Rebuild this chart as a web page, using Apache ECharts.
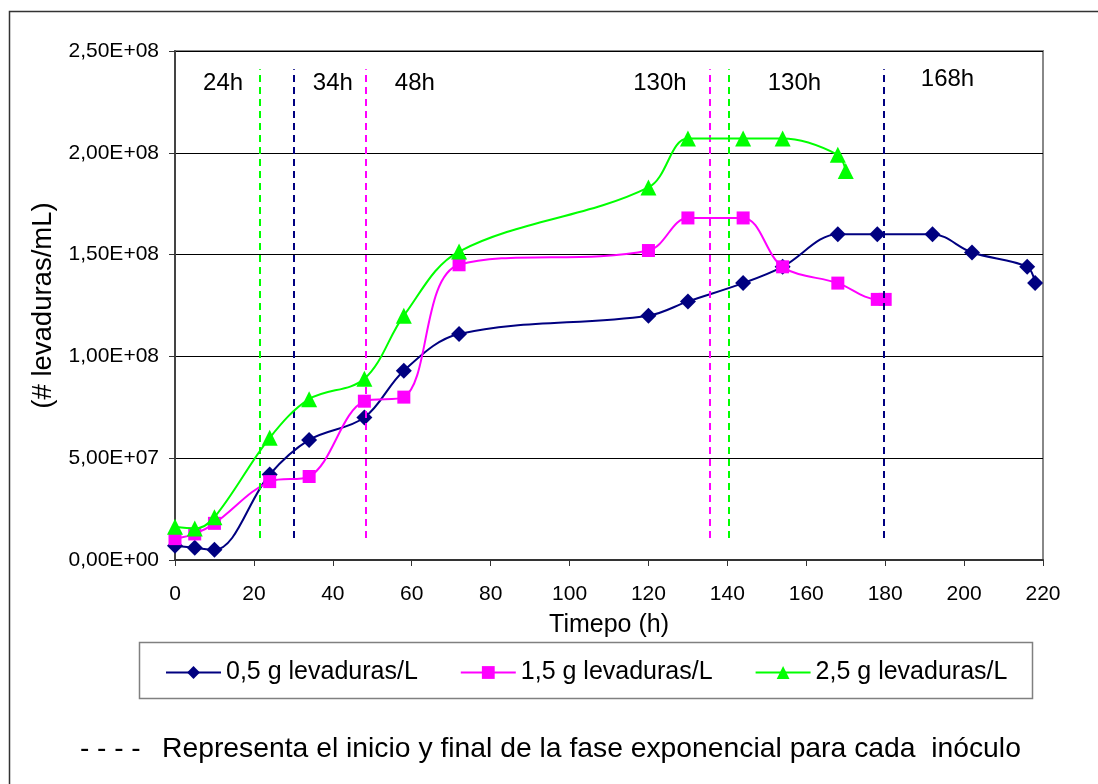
<!DOCTYPE html>
<html>
<head>
<meta charset="utf-8">
<title>Crecimiento de levaduras</title>
<script src="https://cdn.jsdelivr.net/npm/echarts@6/dist/echarts.min.js"></script>
<style>
  html, body { margin: 0; padding: 0; background: #fff; }
  #chart { width: 1098px; height: 784px; }
</style>
</head>
<body>
<div id="chart"></div>
<script>
// Recuento de levaduras (células/mL) frente al tiempo (h) para tres inóculos
const seriesNames = ['0,5 g levaduras/L', '1,5 g levaduras/L', '2,5 g levaduras/L'];

const hours05 = [0, 5, 10, 24, 34, 48, 58, 72, 120, 130, 144, 154, 168, 178, 192, 202, 216, 218];
const cells05 = [7.0e6, 6.0e6, 5.0e6, 4.2e7, 5.9e7, 7.0e7, 9.3e7, 1.11e8, 1.20e8, 1.27e8, 1.36e8, 1.44e8,
                 1.60e8, 1.60e8, 1.60e8, 1.51e8, 1.44e8, 1.36e8];

const hours15 = [0, 5, 10, 24, 34, 48, 58, 72, 120, 130, 144, 154, 168, 178, 180];
const cells15 = [1.05e7, 1.28e7, 1.8e7, 3.85e7, 4.1e7, 7.8e7, 8.0e7, 1.45e8, 1.52e8, 1.68e8, 1.68e8, 1.44e8,
                 1.36e8, 1.28e8, 1.28e8];

const hours25 = [0, 5, 10, 24, 34, 48, 58, 72, 120, 130, 144, 154, 168, 170];
const cells25 = [1.63e7, 1.55e7, 2.1e7, 6.0e7, 7.9e7, 8.9e7, 1.2e8, 1.515e8, 1.83e8, 2.07e8, 2.07e8, 2.07e8,
                 1.99e8, 1.91e8];

// Inicio y final de la fase exponencial de cada inóculo (líneas discontinuas)
const phaseHours = [21.5, 30, 48.4, 135.6, 140.3, 179.6];
const phaseInoculum = [2, 0, 1, 1, 2, 0];
const phaseLow = 1.08e7;
const phaseHigh = 2.41e8;

// Rótulos de duración de la fase
const noteTexts = ['24h', '34h', '48h', '130h', '130h', '168h'];
const noteHours = [12.2, 40.0, 60.8, 122.9, 157.0, 195.8];
const noteLevels = [2.34e8, 2.34e8, 2.34e8, 2.34e8, 2.34e8, 2.36e8];

const xTicks = { min: 0, max: 220, step: 20 };
const yTicks = { min: 0, max: 2.5e8, step: 5e7 };

const colors = ['#000080', '#FF00FF', '#00FF00'];
const symbols = ['diamond', 'rect', 'triangle'];
const symbolSizes = [16, 13, 16];
const FONT = '"Liberation Sans", Arial, sans-serif';

function sci(v) {
  if (v === 0) return '0,00E+00';
  const e = Math.floor(Math.log10(v) + 1e-9);
  const m = v / Math.pow(10, e);
  return m.toFixed(2).replace('.', ',') + 'E+' + String(e).padStart(2, '0');
}

function pairs(xs, ys) { return xs.map((x, i) => [x, ys[i]]); }

const seriesData = [pairs(hours05, cells05), pairs(hours15, cells15), pairs(hours25, cells25)];

const lineSeries = seriesData.map((d, i) => ({
  name: seriesNames[i],
  type: 'line',
  data: d,
  smooth: 0.35,
  symbol: symbols[i],
  symbolSize: symbolSizes[i],
  showAllSymbol: true,
  itemStyle: { color: colors[i], opacity: 1 },
  lineStyle: { color: colors[i], width: 2 },
  z: 3 + i
}));

const noteSeries = {
  name: 'notas',
  type: 'scatter',
  data: noteHours.map((h, i) => ({ value: [h, noteLevels[i]], name: noteTexts[i] })),
  symbolSize: 0,
  silent: true,
  itemStyle: { opacity: 1 },
  label: {
    show: true,
    position: 'inside',
    formatter: p => p.name,
    color: '#000',
    opacity: 1,
    fontSize: 24,
    fontFamily: FONT
  },
  markLine: {
    silent: true,
    symbol: ['none', 'none'],
    label: { show: false },
    data: phaseHours.map((h, i) => [
      { coord: [h, phaseLow], lineStyle: { color: colors[phaseInoculum[i]], type: [7, 5], width: 2, opacity: 1 } },
      { coord: [h, phaseHigh] }
    ])
  },
  z: 2
};

const chart = echarts.init(document.getElementById('chart'), null, { renderer: 'canvas' });

chart.setOption({
  animation: false,
  backgroundColor: '#fff',
  textStyle: { fontFamily: FONT, color: '#000' },
  grid: {
    left: 175, right: 55, top: 51, bottom: 224,
    show: true, borderColor: '#888', borderWidth: 2, backgroundColor: 'transparent'
  },
  xAxis: {
    type: 'value',
    min: xTicks.min, max: xTicks.max, interval: xTicks.step,
    name: 'Timepo (h)',
    nameLocation: 'middle',
    nameGap: 53,
    nameTextStyle: { fontSize: 25, color: '#000', fontFamily: FONT },
    axisLine: { lineStyle: { color: '#333', width: 2 } },
    axisTick: { show: true, inside: false, length: 6, lineStyle: { color: '#333', width: 1 } },
    axisLabel: { fontSize: 21, color: '#000', margin: 24, fontFamily: FONT },
    splitLine: { show: false }
  },
  yAxis: {
    type: 'value',
    min: yTicks.min, max: yTicks.max, interval: yTicks.step,
    name: '(# levaduras/mL)',
    nameLocation: 'middle',
    nameRotate: 90,
    nameGap: 117,
    nameTextStyle: { fontSize: 27.5, color: '#000', fontFamily: FONT },
    axisLine: { show: true, lineStyle: { color: '#444', width: 2 } },
    axisTick: { show: true, inside: false, length: 6, lineStyle: { color: '#333', width: 1 } },
    axisLabel: { fontSize: 21, color: '#000', margin: 16, formatter: sci, fontFamily: FONT },
    splitLine: { show: true, lineStyle: { color: '#000', width: 1 } }
  },
  legend: {
    data: seriesNames,
    left: 160,
    top: 655,
    itemWidth: 55,
    itemHeight: 16,
    itemGap: 42,
    textStyle: { fontSize: 25, color: '#000', fontFamily: FONT },
    selectedMode: false
  },
  graphic: [
    {
      type: 'rect', silent: true, z: -1,
      shape: { x: 9.5, y: 11.5, width: 1200, height: 900 },
      style: { fill: 'none', stroke: '#333', lineWidth: 1.5 }
    },
    {
      type: 'rect', silent: true,
      shape: { x: 139.5, y: 642.5, width: 893, height: 56 },
      style: { fill: 'none', stroke: '#808080', lineWidth: 1.5 }
    },
    {
      type: 'text', silent: true,
      left: 80, top: 735,
      style: { text: '- - - -', fill: '#000', font: '28px ' + FONT }
    },
    {
      type: 'text', silent: true,
      left: 162, top: 735,
      style: {
        text: 'Representa el inicio y final de la fase exponencial para cada  inóculo',
        fill: '#000', font: '28.3px ' + FONT
      }
    }
  ],
  series: [...lineSeries, noteSeries]
});
</script>
</body>
</html>
